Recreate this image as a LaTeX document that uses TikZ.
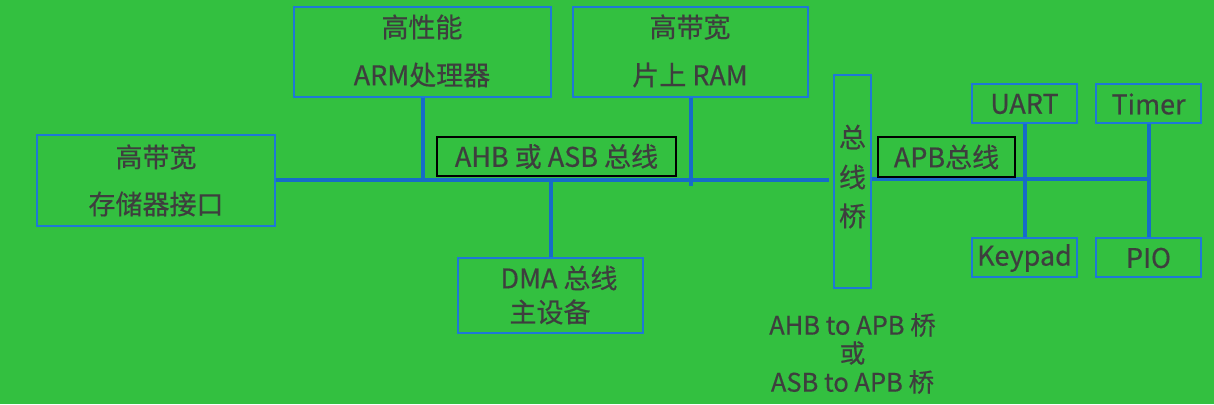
\documentclass[tikz,border=0pt]{standalone}
\usepackage{fontspec}
\setmainfont{Noto Sans CJK SC}[FakeBold=0.5]
\definecolor{bg}{RGB}{51,192,64}
\definecolor{busblue}{RGB}{22,108,200}
\definecolor{boxblue}{RGB}{30,120,215}
\definecolor{txt}{RGB}{62,62,62}
\begin{document}
\begin{tikzpicture}[x=1pt,y=-1pt,
  box/.style={draw=boxblue,line width=1.6pt,inner sep=0pt},
  tag/.style={draw=black,line width=1.4pt,inner sep=0pt,text=txt,font=\fontsize{27}{29}\selectfont},
  lbl/.style={text=txt,inner sep=0pt,font=\fontsize{27}{29}\selectfont},
  note/.style={text=txt,inner sep=0pt,font=\fontsize{25.5}{27}\selectfont},
  bus/.style={draw=busblue,line width=4pt}]
\fill[bg] (0,0) rectangle (1214,404);
\useasboundingbox (0,0) rectangle (1214,404);
% boxes
\node[box,minimum width=238pt,minimum height=91pt] (mem) at (156,180.5) {};
\node[box,minimum width=257pt,minimum height=90pt] (arm) at (422.5,52) {};
\node[box,minimum width=235pt,minimum height=90pt] (ram) at (690.5,52) {};
\node[box,minimum width=37pt,minimum height=213pt] (bridge) at (852.5,181.5) {};
\node[box,minimum width=105pt,minimum height=39pt] (uart) at (1024.5,103.5) {};
\node[box,minimum width=105pt,minimum height=39pt] (timer) at (1148.5,103.5) {};
\node[box,minimum width=105pt,minimum height=39pt] (keypad) at (1024.5,257.5) {};
\node[box,minimum width=105pt,minimum height=39pt] (pio) at (1148.5,257.5) {};
\node[box,minimum width=185pt,minimum height=75pt] (dma) at (550.5,295.5) {};
% box texts
\node[lbl] (memA) at (156,157) {高带宽};
\node[lbl] (memB) at (156,204) {存储器接口};
\node[lbl] (armA) at (422,27) {高性能};
\node[lbl] (armB) at (422,75) {ARM处理器};
\node[lbl] (ramA) at (690,27) {高带宽};
\node[lbl] (ramB) at (690,75) {片上 RAM};
\node[lbl] (brA) at (852.5,137) {总};
\node[lbl] (brB) at (852.5,177) {线};
\node[lbl] (brC) at (852.5,216) {桥};
\node[lbl] (uartT) at (1024.5,104) {UART};
\node[lbl] (timerT) at (1148.5,104) {Timer};
\node[lbl] (keypadT) at (1024.5,258) {Keypad};
\node[lbl] (pioT) at (1148.5,258) {PIO};
\node[lbl] (dmaA) at (559,278) {DMA 总线};
\node[lbl] (dmaB) at (550,312) {主设备};
\node[note] (noteA) at (852.5,325) {AHB to APB 桥};
\node[note] (noteB) at (852.5,353) {或};
\node[note] (noteC) at (852.5,382) {ASB to APB 桥};
% buses
\coordinate (busL) at (829,180);
\coordinate (busR) at (1148,179);
\draw[bus] (mem.east |- busL) -- (busL);
\draw[bus] (bridge.east |- busR) -- (busR);
\draw[bus] (arm.south) -- (arm.south |- busL);
\draw[bus] (ram.south) -- ++(0,88);
\draw[bus] (dma.north) -- (dma.north |- busL);
\draw[bus] (uart.south) -- (keypad.north);
\draw[bus] (timer.south) -- (pio.north);
% bus tags
\node[tag,minimum width=239pt,minimum height=39pt] (ahb) at (556.5,156.5) {AHB 或 ASB 总线};
\node[tag,minimum width=137pt,minimum height=40pt] (apb) at (946.5,157) {APB总线};
\end{tikzpicture}
\end{document}
